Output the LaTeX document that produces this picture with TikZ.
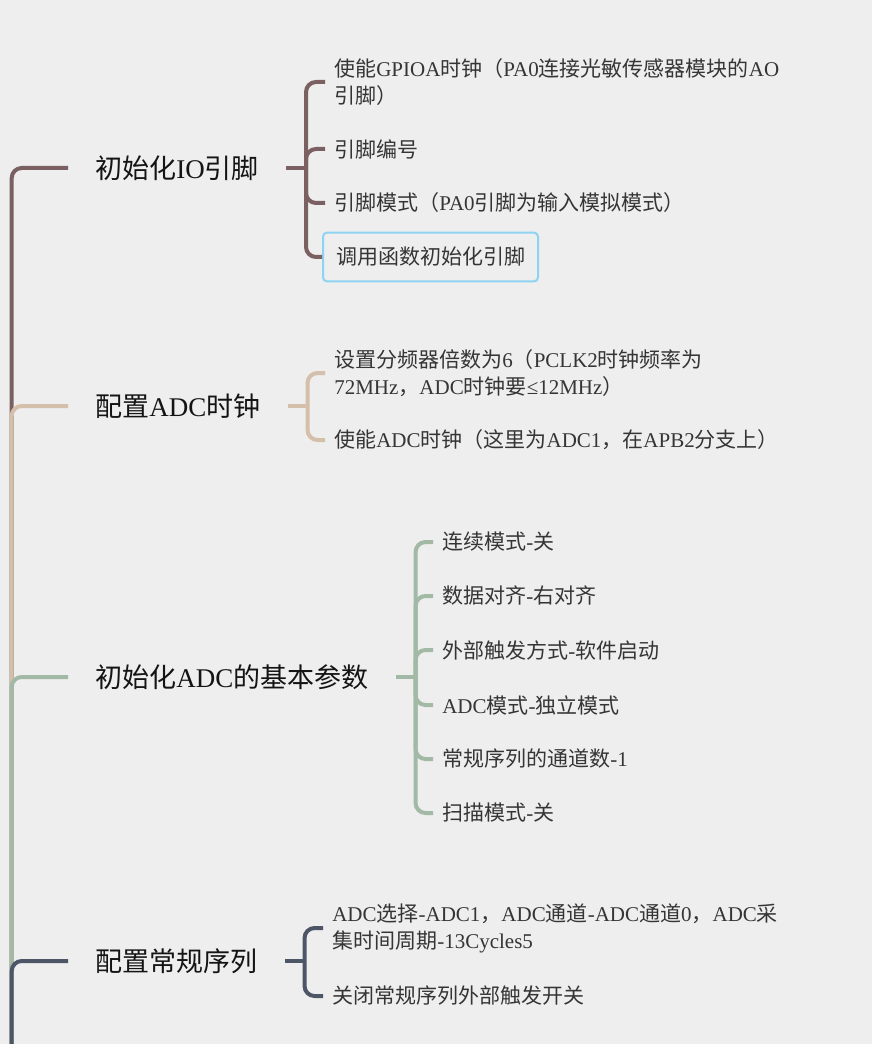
\documentclass[tikz,border=0pt]{standalone}
\usepackage{fontspec}
\setmainfont{Liberation Serif}
\newfontfamily\cjkfont{Noto Sans CJK SC}

% Han characters and full-width punctuation switch to the CJK font
\XeTeXinterchartokenstate=1
\newXeTeXintercharclass\hanclass
\newcommand\setHanRange[2]{%
  \count255=#1
  \loop
    \XeTeXcharclass\count255=\hanclass
    \advance\count255 by 1
  \ifnum\count255<#2\repeat}
\setHanRange{"3000}{"3040}
\setHanRange{"4E00}{"A000}
\setHanRange{"FF00}{"FFF0}
\XeTeXinterchartoks 0 \hanclass = {\cjkfont}
\XeTeXinterchartoks 4095 \hanclass = {\cjkfont}
\XeTeXinterchartoks \hanclass 0 = {\rmfamily}
\XeTeXinterchartoks 4095 0 = {\rmfamily}

\definecolor{bgpaper}{HTML}{EEEEEE}
\definecolor{brownbr}{HTML}{7A6060}
\definecolor{sandbr}{HTML}{D3BFAA}
\definecolor{sagebr}{HTML}{A2B9A5}
\definecolor{slatebr}{HTML}{4D5666}
\definecolor{pickblue}{HTML}{8ED3F2}
\definecolor{leaftext}{HTML}{353535}

\begin{document}
\begin{tikzpicture}[x=0.75pt, y=-0.75pt,
    topic/.style={anchor=west, inner xsep=20.25pt, inner ysep=2pt,
      font=\fontsize{20.25}{24}\selectfont, text=black!92},
    leaf/.style={anchor=west, inner xsep=6.75pt, inner ysep=2pt, align=left,
      font=\fontsize{15.75}{20.25}\selectfont, text=leaftext},
    pick/.style={draw=pickblue, line width=1.5pt, rounded corners=3pt,
      inner xsep=9.75pt, inner ysep=11pt},
    branch/.style={line width=3pt, rounded corners=7.5pt}]
    % Paper
    \fill[bgpaper] (0,0) rectangle (872,1044);
    \useasboundingbox (0,0) rectangle (872,1044);

    % Main topics
    \node[topic] (t1) at (68,168) {初始化IO引脚};
    \node[topic] (t2) at (68,406) {配置ADC时钟};
    \node[topic] (t3) at (68,677) {初始化ADC的基本参数};
    \node[topic] (t4) at (68,961) {配置常规序列};

    % Trunk, lower branches drawn over upper ones
    \coordinate (root) at (11.7,1070);
    \foreach \t/\col in {t1/brownbr, t2/sandbr, t3/sagebr, t4/slatebr}
        \draw[branch, \col] (root) |- (\t.west);

    % Init IO pins
    \node[leaf] (t1a) at (325,82) {使能GPIOA时钟（PA0连接光敏传感器模块的AO\\引脚）};
    \node[leaf] (t1b) at (325,149) {引脚编号};
    \node[leaf] (t1c) at (325,203) {引脚模式（PA0引脚为输入模拟模式）};
    \node[leaf, pick] (t1d) at (322,257) {调用函数初始化引脚};
    \draw[branch, brownbr] (t1.east) -- ++(20,0) coordinate (t1j);
    \foreach \c in {t1a,t1b,t1c,t1d}
        \draw[branch, brownbr] (t1j) |- (\c.west);

    % ADC clock
    \node[leaf] (t2a) at (325,373) {设置分频器倍数为6（PCLK2时钟频率为\\72MHz，ADC时钟要≤12MHz）};
    \node[leaf] (t2b) at (325,440) {使能ADC时钟（这里为ADC1，在APB2分支上）};
    \draw[branch, sandbr] (t2.east) -- ++(20,0) coordinate (t2j);
    \foreach \c in {t2a,t2b}
        \draw[branch, sandbr] (t2j) |- (\c.west);

    % ADC basic parameters
    \draw[branch, sagebr] (t3.east) -- ++(20,0) coordinate (t3j);
    \foreach \y/\txt/\nm in {542/连续模式-关/a, 596/数据对齐-右对齐/b,
        650/外部触发方式-软件启动/c, 705/ADC模式-独立模式/d,
        759/常规序列的通道数-1/e, 813/扫描模式-关/f} {
        \node[leaf] (t3\nm) at (433,\y) {\txt};
        \draw[branch, sagebr] (t3j) |- (t3\nm.west);
    }

    % Regular sequence
    \node[leaf] (t4a) at (323,928) {ADC选择-ADC1，ADC通道-ADC通道0，ADC采\\集时间周期-13Cycles5};
    \node[leaf] (t4b) at (323,996) {关闭常规序列外部触发开关};
    \draw[branch, slatebr] (t4.east) -- ++(20,0) coordinate (t4j);
    \foreach \c in {t4a,t4b}
        \draw[branch, slatebr] (t4j) |- (\c.west);
\end{tikzpicture}
\end{document}
